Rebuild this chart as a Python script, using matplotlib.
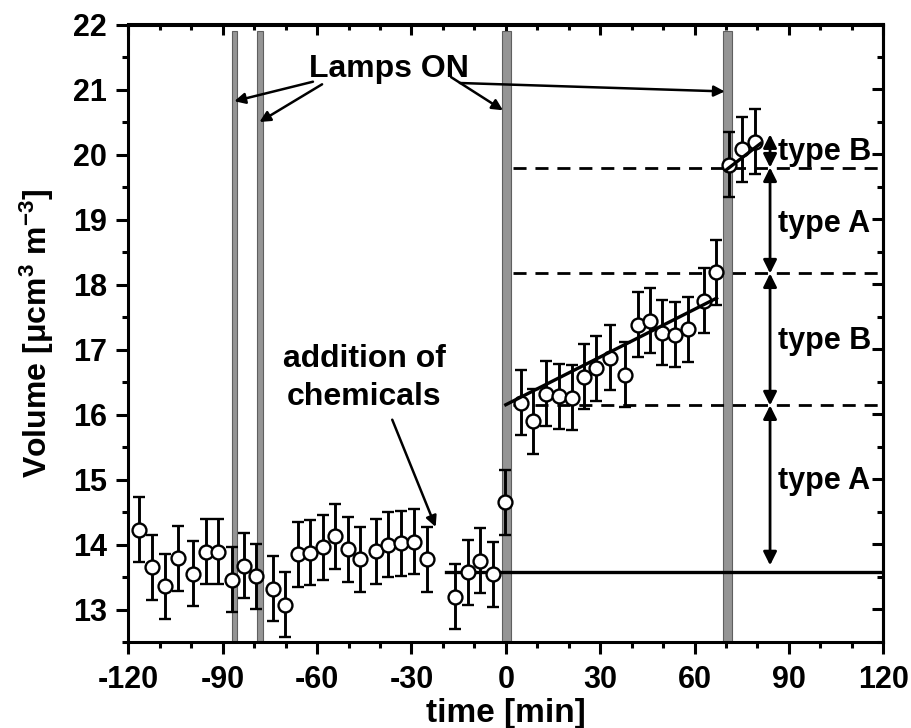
import matplotlib
matplotlib.use("Agg")
import matplotlib.pyplot as plt
from matplotlib.ticker import MultipleLocator

# measured aerosol volume, time relative to addition of chemicals
time_min = [-116.6, -112.6, -108.3, -104.3, -99.3, -95.4, -91.5, -87.1, -83.3,
            -79.3, -74.1, -70.3, -66.1, -62.3, -58.2, -54.3, -50.2, -46.3,
            -41.3, -37.4, -33.4, -29.3, -24.9,
            -16.3, -12.05, -8.2, -4.2, -0.3,
            4.8, 8.8, 12.9, 16.9, 20.9, 24.9, 28.8, 33.0, 37.8, 41.9, 45.8,
            49.8, 53.8, 57.9, 63.0, 66.9,
            71.0, 75.1, 79.3]
volume = [14.23, 13.65, 13.36, 13.79, 13.55, 13.89, 13.89, 13.46, 13.67,
          13.51, 13.32, 13.07, 13.85, 13.87, 13.96, 14.13, 13.93, 13.77,
          13.90, 14.00, 14.02, 14.04, 13.77,
          13.20, 13.57, 13.75, 13.54, 14.65,
          16.18, 15.90, 16.32, 16.28, 16.26, 16.58, 16.71, 16.87, 16.61,
          17.38, 17.44, 17.26, 17.23, 17.31, 17.75, 18.19,
          19.84, 20.08, 20.20]
volume_err = [0.5] * len(volume)

# lamp switch-on intervals
lamp_start = [-86.9, -79.1, -1.3, 69.2]
lamp_end = [-85.3, -77.2, 1.5, 71.8]

# fitted lines
fit1_t = [0.0, 67.0]
fit1_v = [16.15, 17.79]
fit2_t = [70.0, 81.0]
fit2_v = [19.76, 20.17]
baseline_t = [-19.0, 120.0]
baseline_v = [13.58, 13.58]

# levels of the type A / type B steps
levels = [13.68, 16.14, 18.17, 19.80, 20.31]
step_labels = ["type A", "type B", "type A", "type B"]
step_label_y = [14.86, 17.0, 18.81, 19.91]

plt.rcParams['font.family'] = ['Liberation Sans', 'DejaVu Sans']
plt.rcParams['font.weight'] = 'bold'
plt.rcParams['axes.unicode_minus'] = False
plt.rcParams['mathtext.fontset'] = 'custom'
plt.rcParams['mathtext.rm'] = 'Liberation Sans:bold'
plt.rcParams['mathtext.bf'] = 'Liberation Sans:bold'
plt.rcParams['mathtext.default'] = 'bf'

fig = plt.figure(figsize=(9.12, 7.28), dpi=100)
ax = fig.add_axes([128.3 / 912, 86 / 728, 755 / 912, 617.5 / 728])

ax.set_xlim(-120, 120)
ax.set_ylim(12.5, 22)

# lamp bars
for s, e in zip(lamp_start, lamp_end):
    ax.axvspan(s, e, ymin=0, ymax=0.989, facecolor='#959595',
               edgecolor='#5f5f5f', lw=0.8, zorder=1)

# dashed levels
for lv in levels[1:4]:
    ax.plot([2.3, 120], [lv, lv], color='k', lw=2.0, dashes=(4.7, 3.2),
            zorder=2)

ax.plot(baseline_t, baseline_v, color='k', lw=2.4, zorder=2)

ax.errorbar(time_min, volume, yerr=volume_err, fmt='o', ms=10, mfc='white',
            mec='k', mew=1.7, ecolor='k', elinewidth=2.1, capsize=4,
            capthick=2.1, zorder=3)

ax.plot(fit1_t, fit1_v, color='k', lw=2.4, zorder=4)
ax.plot(fit2_t, fit2_v, color='k', lw=2.4, zorder=4)

# double arrows for the steps
for lo, hi in zip(levels[:-1], levels[1:]):
    ax.annotate('', xy=(84.0, hi), xytext=(84.0, lo),
                arrowprops=dict(arrowstyle='<|-|>', color='k', lw=2.0,
                                mutation_scale=20, shrinkA=0, shrinkB=0))
for lab, y in zip(step_labels, step_label_y):
    ax.text(86.5, y, lab, fontsize=22, fontweight='bold', ha='left',
            va='baseline')

# Lamps ON
ax.text(-37.0, 21.19, "Lamps ON", fontsize=23, fontweight='bold',
        ha='center', va='baseline')
lamp_arrows = [((-61.3, 21.12), (-86.3, 20.82)),
               ((-58.4, 21.08), (-78.3, 20.50)),
               ((-17.4, 21.19), (-0.9, 20.68)),
               ((-14.6, 21.10), (69.6, 20.97))]
for start, tip in lamp_arrows:
    ax.annotate('', xy=tip, xytext=start,
                arrowprops=dict(arrowstyle='-|>', color='k', lw=1.8,
                                mutation_scale=16, shrinkA=0, shrinkB=0))

# addition of chemicals
ax.text(-45.0, 16.73, "addition of", fontsize=23, fontweight='bold',
        ha='center', va='baseline')
ax.text(-45.0, 16.15, "chemicals", fontsize=23, fontweight='bold',
        ha='center', va='baseline')
ax.annotate('', xy=(-22.3, 14.27), xytext=(-36.1, 15.92),
            arrowprops=dict(arrowstyle='-|>', color='k', lw=1.8,
                            mutation_scale=16, shrinkA=0, shrinkB=0))

# axes styling: ticks out on left/bottom, in on top/right
for sp in ax.spines.values():
    sp.set_linewidth(2.2)
ax.xaxis.set_major_locator(MultipleLocator(30))
ax.xaxis.set_minor_locator(MultipleLocator(10))
ax.yaxis.set_major_locator(MultipleLocator(1))
ax.yaxis.set_minor_locator(MultipleLocator(0.5))
ax.tick_params(which='both', direction='out', width=2.2, labelsize=22,
               top=False, right=False)
ax.tick_params(which='major', length=8.5)
ax.tick_params(which='minor', length=4.5)
ax.tick_params(axis='x', which='major', pad=8)
ax.tick_params(axis='y', which='major', pad=7)

top = ax.secondary_xaxis('top')
top.xaxis.set_major_locator(MultipleLocator(30))
top.xaxis.set_minor_locator(MultipleLocator(10))
top.tick_params(which='both', direction='in', width=2.2, labeltop=False)
top.tick_params(which='major', length=8)
top.tick_params(which='minor', length=4.5)
top.spines['top'].set_linewidth(2.2)

right = ax.secondary_yaxis('right')
right.yaxis.set_major_locator(MultipleLocator(1))
right.yaxis.set_minor_locator(MultipleLocator(0.5))
right.tick_params(which='both', direction='in', width=2.2, labelright=False)
right.tick_params(which='major', length=8)
right.tick_params(which='minor', length=4.5)
right.spines['right'].set_linewidth(2.2)

ax.set_xlabel("time [min]", fontsize=24, fontweight='bold', labelpad=2)
ax.set_ylabel("Volume [μcm$^{3}$ m$^{-3}$]", fontsize=23,
              fontweight='bold', labelpad=12)

fig.savefig("out.png", dpi=100)
plt.close(fig)
